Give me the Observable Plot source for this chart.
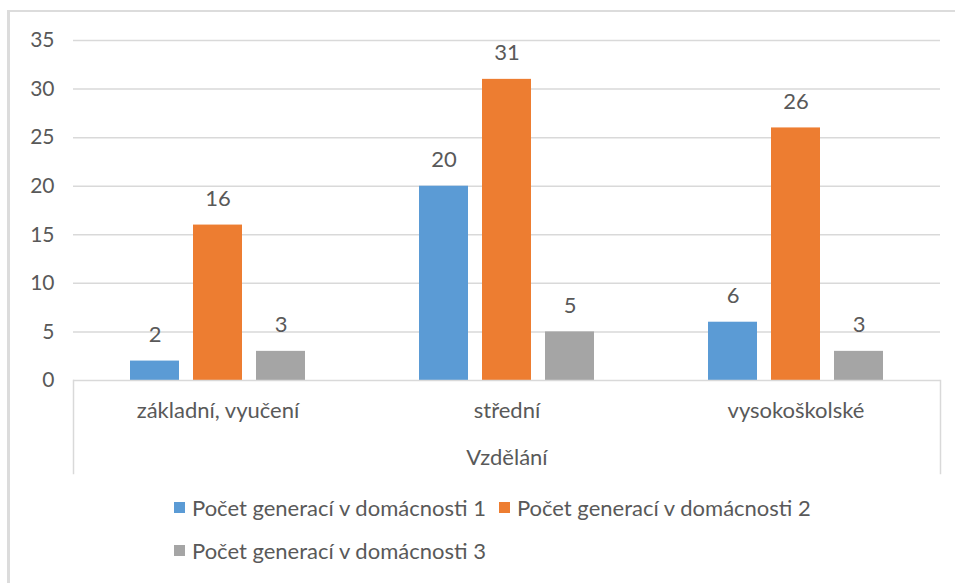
<!DOCTYPE html>
<html><head><meta charset="utf-8">
<script src="https://cdn.jsdelivr.net/npm/d3@7"></script>
<script src="https://cdn.jsdelivr.net/npm/@observablehq/plot@0.6"></script>
<style>
body{margin:0;background:#fff;font-family:Lato,sans-serif;}
#wrap{position:relative;width:955px;height:583px;overflow:hidden;background:#fff;}
#border{position:absolute;left:7px;top:10px;width:960px;height:620px;border-left:3px solid #dcdcdc;border-top:2px solid #dcdcdc;box-sizing:border-box;}
#chart{position:absolute;left:0;top:0;}
#legend{position:absolute;left:174px;top:494px;width:700px;color:#595959;font-size:22px;display:flex;flex-wrap:wrap;row-gap:17px;}
.item{display:inline-flex;align-items:center;margin-right:13px;height:26px;}
.sw{width:11px;height:11px;margin-right:7px;display:inline-block;}
</style></head>
<body><div id="wrap"><div id="border"></div><div id="chart"></div><div id="legend"></div></div>
<script>
const categories = ["základní, vyučení", "střední", "vysokoškolské"];
const seriesNames = ["Počet generací v domácnosti 1", "Počet generací v domácnosti 2", "Počet generací v domácnosti 3"];
const gen1 = [2, 20, 6];
const gen2 = [16, 31, 26];
const gen3 = [3, 5, 3];
const seriesColors = ["#5b9bd5", "#ed7d31", "#a5a5a5"];
const yTicks = [0, 5, 10, 15, 20, 25, 30, 35];
const axisTitle = "Vzdělání";

const series = [gen1, gen2, gen3];
const data = categories.flatMap((c, i) => series.map((arr, j) => ({category: c, series: seriesNames[j], value: arr[i]})));

const textColor = "#595959";
const chart = Plot.plot({
  width: 955, height: 490,
  marginLeft: 72, marginRight: 15, marginTop: 40, marginBottom: 110,
  style: {fontFamily: "Lato, sans-serif", fontSize: "22px", color: textColor, background: "transparent", overflow: "visible"},
  fx: {domain: categories, padding: 0, label: null, axis: null},
  x: {domain: seriesNames, paddingInner: 0.219, paddingOuter: 0.868, axis: null},
  y: {domain: [0, 35], axis: null},
  color: {domain: seriesNames, range: seriesColors},
  marks: [
    Plot.ruleY(yTicks.slice(1), {stroke: "#d9d9d9", strokeWidth: 1.5}),
    Plot.axisY(yTicks, {tickSize: 0, tickPadding: 19, fontSize: 21, fill: textColor, label: null}),
    Plot.barY(data, {fx: "category", x: "series", y: "value", fill: "series"}),
    Plot.text(data, {fx: "category", x: "series", y: "value", text: "value", dy: -26, fontSize: 22, fill: textColor}),
    Plot.ruleY([0], {stroke: "#d9d9d9", strokeWidth: 1.5}),
    Plot.frame({anchor: "left", fx: () => categories[0], insetTop: 340, insetBottom: -93, stroke: "#d9d9d9", strokeWidth: 1.5}),
    Plot.frame({anchor: "right", fx: () => categories[2], insetTop: 340, insetBottom: -93, stroke: "#d9d9d9", strokeWidth: 1.5}),
    Plot.axisFx({anchor: "bottom", tickSize: 0, tickPadding: 22, fontSize: 22, fill: textColor, label: null}),
    Plot.text([axisTitle], {fx: () => categories[1], frameAnchor: "bottom", dy: 84, fontSize: 22, fill: textColor})
  ]
});
document.getElementById("chart").appendChild(chart);

const legend = document.getElementById("legend");
seriesNames.forEach((name, i) => {
  const it = document.createElement("div");
  it.className = "item";
  const sw = document.createElement("span");
  sw.className = "sw";
  sw.style.background = seriesColors[i];
  it.appendChild(sw);
  it.appendChild(document.createTextNode(name));
  legend.appendChild(it);
});
</script></body></html>
